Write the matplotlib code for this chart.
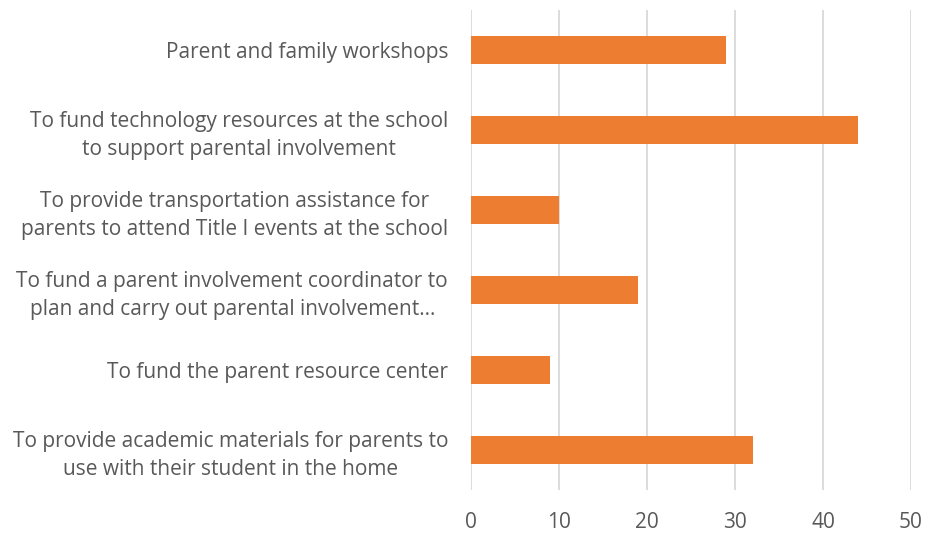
import matplotlib.pyplot as plt

categories = [
    "Parent and family workshops",
    "To fund technology resources at the school\nto support parental involvement",
    "To provide transportation assistance for\nparents to attend Title I events at the school",
    "To fund a parent involvement coordinator to\nplan and carry out parental involvement…",
    "To fund the parent resource center",
    "To provide academic materials for parents to\nuse with their student in the home",
]
values = [29, 44, 10, 19, 9, 32]
x_ticks = [0, 10, 20, 30, 40, 50]

plt.rcParams['font.family'] = ['Open Sans', 'DejaVu Sans']

fig = plt.figure(figsize=(9.29, 5.37), dpi=100)
ax = fig.add_axes([471 / 929, 1 - 490 / 537, 440 / 929, 480 / 537])

pos = list(range(len(categories)))
ax.barh(pos, values, height=0.35, color="#ED7D31", zorder=3)
ax.set_ylim(len(categories) - 0.5, -0.5)
ax.set_xlim(0, 50)
ax.set_xticks(x_ticks)
ax.set_yticks(pos)
ax.set_yticklabels(categories, multialignment="center", linespacing=1.42)

ax.grid(axis="x", color="#D9D9D9", linewidth=1.3, zorder=0)
for s in ax.spines.values():
    s.set_visible(False)
ax.tick_params(axis="both", length=0, labelsize=15, colors="#595959")
ax.tick_params(axis="y", pad=16.5)
ax.tick_params(axis="x", pad=15.5)

fig.savefig("out.png", dpi=100)
